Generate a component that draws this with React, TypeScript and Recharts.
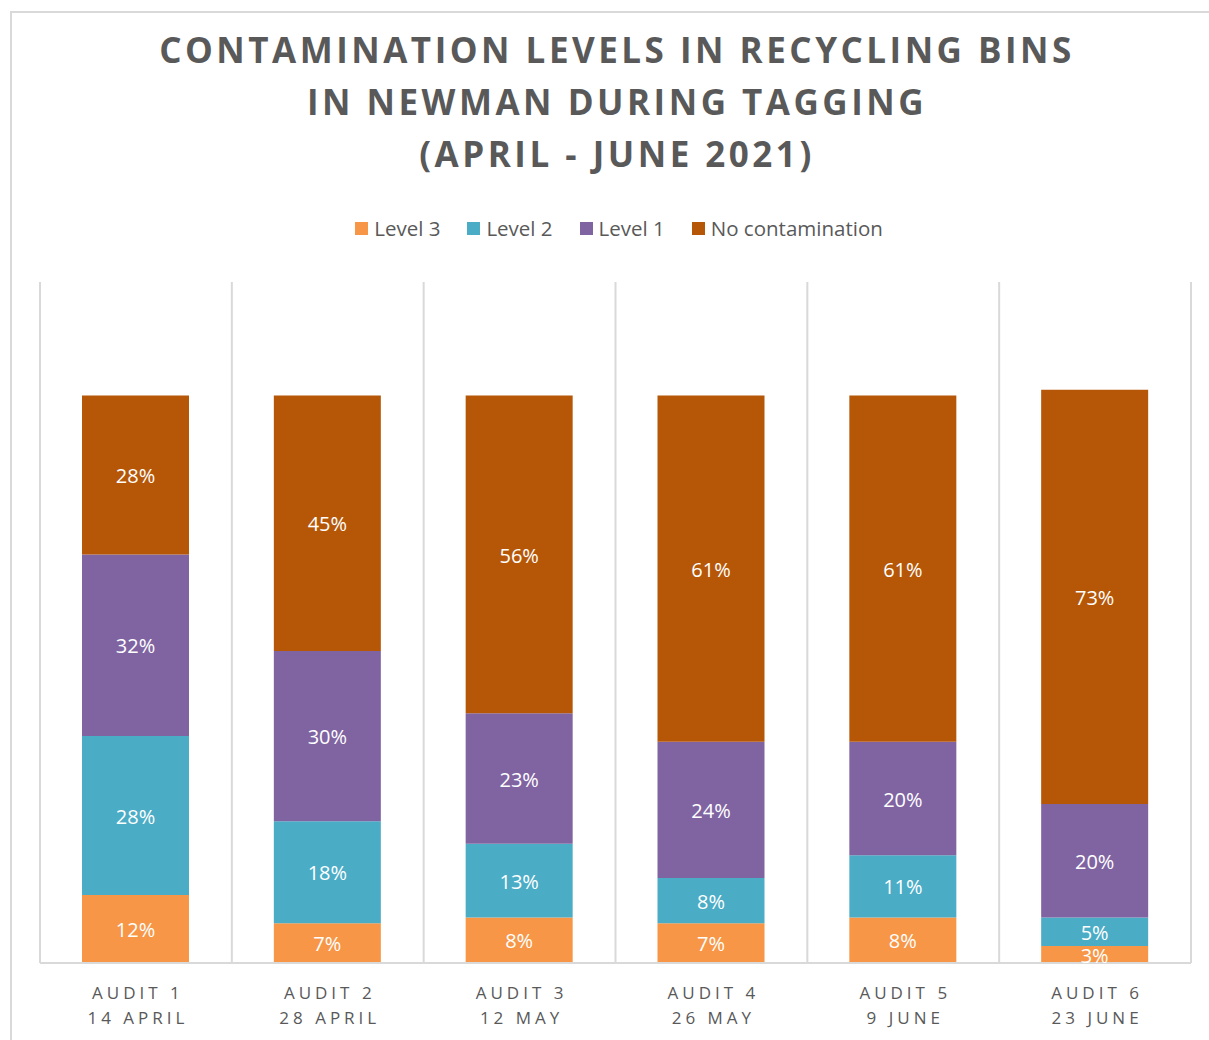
import React from "react";
import { BarChart, Bar, XAxis, YAxis, CartesianGrid, LabelList } from "recharts";

const audits = ["AUDIT 1", "AUDIT 2", "AUDIT 3", "AUDIT 4", "AUDIT 5", "AUDIT 6"];
const dates = ["14 APRIL", "28 APRIL", "12 MAY", "26 MAY", "9 JUNE", "23 JUNE"];
const level3 = [12, 7, 8, 7, 8, 3];
const level2 = [28, 18, 13, 8, 11, 5];
const level1 = [32, 30, 23, 24, 20, 20];
const noContamination = [28, 45, 56, 61, 61, 73];

const series = [
  { key: "level3", name: "Level 3", color: "#F79646" },
  { key: "level2", name: "Level 2", color: "#4BACC6" },
  { key: "level1", name: "Level 1", color: "#8064A2" },
  { key: "none", name: "No contamination", color: "#B65708" },
];

const data = audits.map((a, i) => ({
  audit: a,
  date: dates[i],
  level3: level3[i],
  level2: level2[i],
  level1: level1[i],
  none: noContamination[i],
}));

const FONT = "'Open Sans', sans-serif";
const GREY = "#595959";

function AuditTick({ x, y, payload, index }: any) {
  return (
    <g transform={`translate(${x},${y})`}>
      <text textAnchor="middle" fill={GREY} fontFamily={FONT} fontSize={17} letterSpacing={4}>
        <tspan x={2} dy={28}>{payload.value}</tspan>
        <tspan x={2} dy={25}>{dates[index]}</tspan>
      </text>
    </g>
  );
}

export default function App() {
  return (
    <div style={{ position: "fixed", left: 0, top: 0, width: 1209, height: 1040, overflow: "hidden", background: "#fff", fontFamily: FONT }}>
      <div style={{ position: "absolute", left: 10, top: 11, width: 1300, height: 1200, border: "2px solid #d9d9d9" }} />
      <div style={{ position: "absolute", left: 0, top: 24, width: 1234, textAlign: "center", color: GREY, fontWeight: 700, fontSize: 35, letterSpacing: 3.5, lineHeight: "52px" }}>
        CONTAMINATION LEVELS IN RECYCLING BINS<br />IN NEWMAN DURING TAGGING<br />(APRIL - JUNE 2021)
      </div>
      <div style={{ position: "absolute", left: 0, top: 214, width: 1238, display: "flex", justifyContent: "center", gap: 27, color: GREY, fontSize: 20.5 }}>
        {series.map(s => (
          <div key={s.key} style={{ display: "flex", alignItems: "center", gap: 6 }}>
            <span style={{ width: 13, height: 13, background: s.color, display: "inline-block" }} />
            <span>{s.name}</span>
          </div>
        ))}
      </div>
      <div style={{ position: "absolute", left: 0, top: 0 }}>
        <BarChart width={1209} height={1040} data={data} margin={{ top: 282, right: 18, left: 40, bottom: 7 }}>
          <CartesianGrid
            horizontal={false}
            stroke="#d9d9d9"
            strokeWidth={2}
            verticalCoordinatesGenerator={({ offset }: any) =>
              audits.map((_, i) => offset.left + (i * offset.width) / audits.length).concat(offset.left + offset.width)
            }
          />
          <XAxis dataKey="audit" height={70} interval={0} tickLine={false} axisLine={{ stroke: "#d9d9d9", strokeWidth: 2 }} tick={<AuditTick />} />
          <YAxis hide domain={[0, 120]} />
          {series.map(s => (
            <Bar key={s.key} dataKey={s.key} name={s.name} stackId="a" fill={s.color} barSize={107} isAnimationActive={false}>
              <LabelList dataKey={s.key} position="center" fill="#fff" fontFamily={FONT} fontSize={20} dy={1} formatter={(v: any) => `${v}%`} />
            </Bar>
          ))}
        </BarChart>
      </div>
    </div>
  );
}
